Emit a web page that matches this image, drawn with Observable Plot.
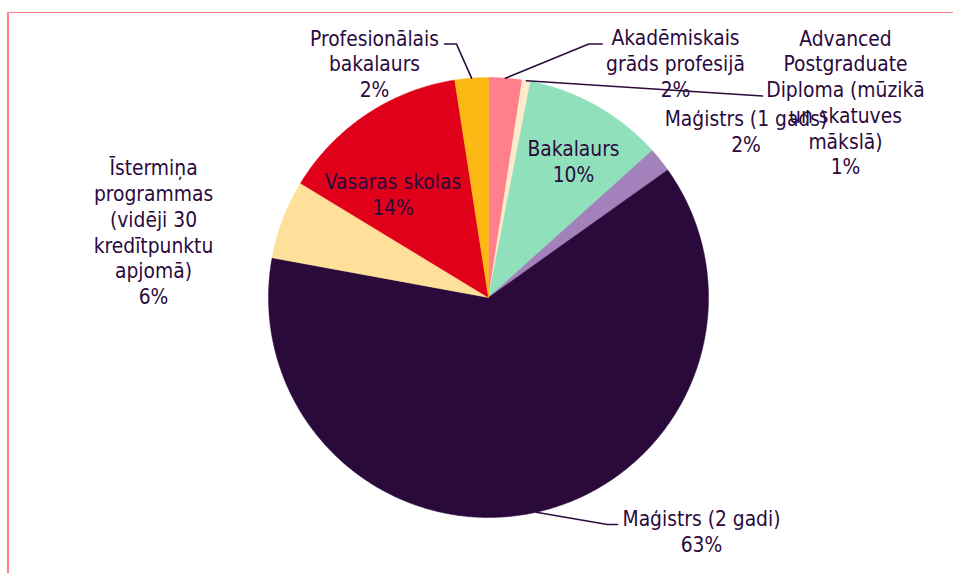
<!DOCTYPE html>
<html><head><meta charset="utf-8">
<script src="https://cdn.jsdelivr.net/npm/d3@7"></script>
<script src="https://cdn.jsdelivr.net/npm/@observablehq/plot@0.6"></script>
<style>
body{margin:0;background:#fff;}
#wrap{position:relative;width:953px;height:573px;overflow:hidden;background:#fff;}
#frame{position:absolute;left:7px;top:12px;width:960px;height:600px;border-top:1px solid #FF7F86;border-left:2px solid #FF7F86;}
#chart{position:absolute;left:0;top:0;}
</style></head><body>
<div id="wrap"><div id="frame"></div><div id="chart"></div></div>
<script>
// Slices, clockwise from 12 o'clock
const categories = [
  "Akadēmiskais\ngrāds profesijā",
  "Advanced\nPostgraduate\nDiploma (mūzikā\nun skatuves\nmākslā)",
  "Bakalaurs",
  "Maģistrs (1 gads)",
  "Maģistrs (2 gadi)",
  "Īstermiņa\nprogrammas\n(vidēji 30\nkredītpunktu\napjomā)",
  "Vasaras skolas",
  "Profesionālais\nbakalaurs"
];
const values = [2.45, 0.6, 10.3, 1.8, 62.7, 5.8, 13.85, 2.45];
const colors = ["#FF7F8A", "#FFEBC9", "#90E0BC", "#A381BB", "#2A0A3A", "#FFE09A", "#E1001A", "#FDB913"];

// Layout (pixels): label block centre, and leader elbow points (empty = no leader)
const labelPos = [[675, 62.3], [845, 101.3], [573, 160.5], [745.5, 130.5], [701, 530], [153, 231], [392.5, 193.5], [374, 62.5]];
const leaderElbows = [[[588.3, 43.5], [601.7, 43.5]], [[762, 95.5]], [], [], [[607, 524], [617, 524]], [], [], [[456, 43.5], [444, 43.5]]];

const CX = 488, CY = 297, R = 220;
const ux = px => (px - CX) / R;
const uy = py => (CY - py) / R;

const total = d3.sum(values);
const slices = [];
let acc = 0;
values.forEach((v, i) => {
  const a0 = acc / total * 2 * Math.PI;
  acc += v;
  const a1 = acc / total * 2 * Math.PI;
  slices.push({i, a0, a1, mid: (a0 + a1) / 2, pct: Math.round(v / total * 100)});
});

const wedgePts = [];
for (const s of slices) {
  wedgePts.push({i: s.i, x: 0, y: 0});
  const n = Math.max(2, Math.ceil((s.a1 - s.a0) / (Math.PI / 360)));
  for (let k = 0; k <= n; k++) {
    const a = s.a0 + (s.a1 - s.a0) * k / n;
    wedgePts.push({i: s.i, x: Math.sin(a), y: Math.cos(a)});
  }
  wedgePts.push({i: s.i, x: 0, y: 0});
}

const leaderPts = [];
for (const s of slices) {
  const el = leaderElbows[s.i];
  if (!el.length) continue;
  leaderPts.push({i: s.i, x: Math.sin(s.mid), y: Math.cos(s.mid)});
  for (const [px, py] of el) leaderPts.push({i: s.i, x: ux(px), y: uy(py)});
}

const labels = slices.map(s => ({
  x: ux(labelPos[s.i][0]),
  y: uy(labelPos[s.i][1]),
  text: categories[s.i] + "\n" + s.pct + "%"
}));

const chart = Plot.plot({
  width: 953,
  height: 573,
  x: {axis: null, domain: [-1, 1], range: [CX - R, CX + R]},
  y: {axis: null, domain: [-1, 1], range: [CY + R, CY - R]},
  color: {type: "identity"},
  style: {background: "transparent", fontFamily: "'DejaVu Sans Condensed', 'Liberation Sans', Arial, sans-serif"},
  marks: [
    Plot.line(wedgePts, {x: "x", y: "y", z: "i", fill: d => colors[d.i], stroke: d => colors[d.i], strokeWidth: 0.5, curve: "linear"}),
    Plot.line(leaderPts, {x: "x", y: "y", z: "i", stroke: "#2B0A3D", strokeWidth: 1.6, curve: "linear"}),
    Plot.text(labels, {x: "x", y: "y", text: "text", textAnchor: "middle", lineAnchor: "middle", lineHeight: 1.236, fontSize: 20.8, fill: "#2B0A3D"})
  ]
});
document.getElementById("chart").appendChild(chart);
</script>
</body></html>
